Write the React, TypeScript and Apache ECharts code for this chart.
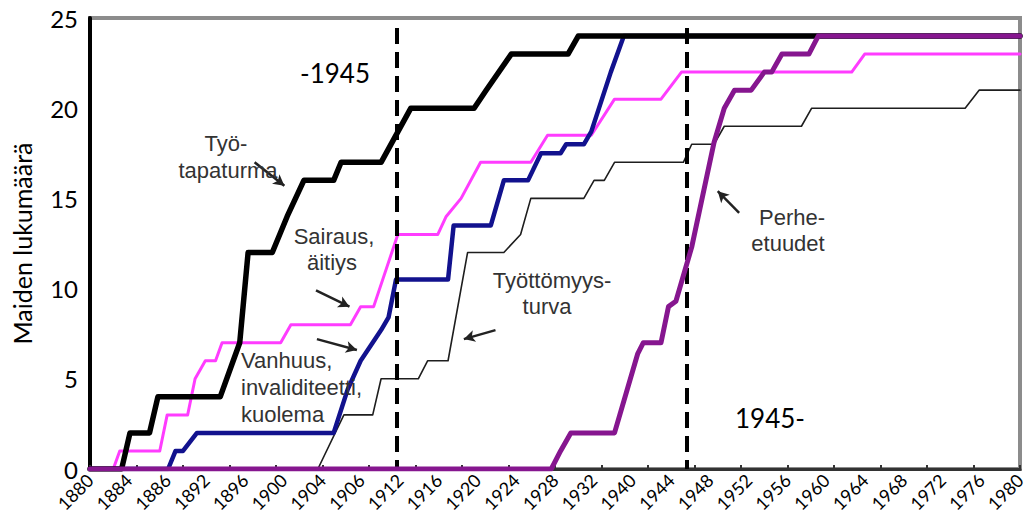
import { useEffect, useRef } from "react";
import * as echarts from "echarts";

// Tick labels printed under the x axis (as in the original figure)
const xTickLabels = [
  "1880", "1884", "1886", "1892", "1896", "1900", "1904", "1906", "1912",
  "1916", "1920", "1924", "1928", "1932", "1940", "1944", "1948", "1952",
  "1956", "1960", "1964", "1968", "1972", "1976", "1980",
];
const yearMin = 1880;
const yearMax = 1980;
const yMax = 25;

// Number of countries, [year, count]
const tyotapaturma = [
  [1880, 0], [1883.4, 0], [1884.3, 2], [1886.4, 2], [1887.3, 4], [1894, 4],
  [1895.4, 6], [1896.1, 7], [1897, 12], [1899.6, 12], [1901.2, 14], [1903, 16],
  [1906.2, 16], [1907, 17], [1911.3, 17], [1914.5, 20], [1921.3, 20],
  [1922.6, 21], [1925.3, 23], [1931.4, 23], [1932.5, 24], [1980, 24],
];
const sairausAitiys = [
  [1880, 0], [1882.5, 0], [1883.2, 1], [1887.5, 1], [1888.3, 3], [1890.5, 3],
  [1891.3, 5], [1892.4, 6], [1893.5, 6], [1894.2, 7], [1900.5, 7], [1901.6, 8],
  [1908, 8], [1909.1, 9], [1910.5, 9], [1913.1, 13], [1917.4, 13], [1918.3, 14],
  [1919.9, 15], [1922, 17], [1927.4, 17], [1929.2, 18.5], [1933.9, 18.5],
  [1936.4, 20.5], [1941.4, 20.5], [1943.6, 22], [1961.9, 22], [1963.3, 23],
  [1980, 23],
];
const vanhuus = [
  [1880, 0], [1888.4, 0], [1889.2, 1], [1890, 1], [1891.5, 2], [1906.2, 2],
  [1907.7, 4.4], [1909.1, 6], [1911.3, 7.7], [1912.1, 8.4], [1912.9, 10.5],
  [1918.5, 10.5], [1919.1, 13.5], [1923.1, 13.5], [1924.5, 16], [1927.1, 16],
  [1928.5, 17.5], [1930.6, 17.5], [1931.2, 18], [1933.1, 18], [1933.9, 18.7],
  [1936, 22], [1937.4, 24], [1980, 24],
];
const tyottomyysturva = [
  [1880, 0], [1904.5, 0], [1907.3, 3], [1910.4, 3], [1911.3, 5], [1915.3, 5],
  [1916.3, 6], [1918.5, 6], [1920.6, 12], [1924.5, 12], [1926.3, 13],
  [1927.4, 15], [1933.1, 15], [1934.2, 16], [1935.3, 16], [1936.4, 17],
  [1943.8, 17], [1944.7, 18], [1947.1, 18], [1948.2, 19], [1956.5, 19],
  [1957.6, 20], [1974.1, 20], [1975.6, 21], [1980, 21],
];
const perheEtuudet = [
  [1880, 0], [1929.6, 0], [1930.6, 1], [1931.7, 2], [1936.4, 2], [1938.9, 6.4],
  [1939.5, 7], [1941.4, 7], [1942.2, 9], [1943, 9.3], [1944.7, 12.3],
  [1947.1, 18.1], [1948.2, 20], [1949.3, 21], [1951.1, 21], [1952.5, 22],
  [1953.3, 22], [1954.4, 23], [1957.3, 23], [1958.3, 24], [1980, 24],
];

// Period dividers (years) and their top value
const dividerYears = [1913.0, 1944.2];
const dividerTop = 24.45;

// Annotation arrows: [fromYear, fromValue, toYear, toValue]
const arrows = [
  [1897.7, 17.0, 1900.9, 15.7],
  [1904.3, 9.9, 1907.9, 9.0],
  [1904.4, 7.2, 1908.7, 6.6],
  [1923.6, 7.7, 1920.2, 7.2],
  [1949.8, 14.2, 1947.5, 15.4],
];

const FONT = "Lato";
const ANN_FONT = "Liberation Sans";
const GRID_TOP = 18;
const GRID_BOTTOM = 58;
const CHART_H = 527;
const GRID_H = CHART_H - GRID_TOP - GRID_BOTTOM;

export default function App() {
  const ref = useRef<HTMLDivElement>(null);

  useEffect(() => {
    if (!ref.current) return;
    const chart = echarts.init(ref.current, undefined, { renderer: "svg" });

    const annText = (text: string, x: number, y: number, align = "center") => ({
      type: "text",
      x,
      y,
      z: 100,
      style: {
        text,
        fill: "#333",
        fontSize: 22,
        fontFamily: ANN_FONT,
        textAlign: align,
        textVerticalAlign: "middle",
      },
    });
    const bigText = (text: string, x: number, y: number) => ({
      type: "text",
      x,
      y,
      z: 100,
      style: {
        text,
        fill: "#000",
        fontSize: 26,
        fontFamily: FONT,
        textAlign: "left",
        textVerticalAlign: "middle",
      },
    });

    const lineSeries = (
      name: string,
      data: number[][],
      color: string,
      width: number,
      z: number,
      extra: any = {}
    ) => ({
      name,
      type: "line",
      xAxisIndex: 1,
      yAxisIndex: 0,
      data,
      showSymbol: false,
      symbol: "none",
      z,
      lineStyle: { color, width, join: "round", cap: "round" },
      itemStyle: { color },
      ...extra,
    });

    chart.setOption({
      animation: false,
      backgroundColor: "#fff",
      grid: {
        left: 90,
        right: 10,
        top: GRID_TOP,
        bottom: GRID_BOTTOM,
        show: true,
        borderColor: "#8c8c8c",
        borderWidth: 4,
        backgroundColor: "#fff",
      },
      xAxis: [
        {
          // printed year labels, the only axis on the bottom side
          type: "category",
          data: xTickLabels,
          boundaryGap: false,
          position: "bottom",
          axisLine: { show: true, lineStyle: { color: "#333", width: 3 } },
          axisTick: { show: false },
          splitLine: { show: false },
          axisLabel: {
            show: true,
            interval: 0,
            rotate: 45,
            fontSize: 18,
            fontFamily: FONT,
            color: "#000",
          },
        },
        {
          // linear year scale used by the data, its 5-year ticks moved to the bottom edge
          type: "value",
          min: yearMin,
          max: yearMax,
          interval: 5,
          position: "top",
          offset: -GRID_H,
          axisLine: { show: false },
          axisTick: { show: true, inside: false, length: 4, lineStyle: { color: "#333", width: 2 } },
          axisLabel: { show: false },
          splitLine: { show: false },
        },
      ],
      yAxis: {
        type: "value",
        min: 0,
        max: yMax,
        interval: 5,
        name: "Maiden lukumäärä",
        nameLocation: "middle",
        nameGap: 56,
        nameRotate: 90,
        nameTextStyle: { fontSize: 25, fontFamily: FONT, color: "#000" },
        axisLine: { show: true, lineStyle: { color: "#000", width: 4 } },
        axisTick: { show: false },
        splitLine: { show: false },
        axisLabel: { fontSize: 24, fontFamily: FONT, color: "#000", margin: 12 },
      },
      series: [
        lineSeries("Työttömyysturva", tyottomyysturva, "#1e1e1e", 1.6, 2, {
          markLine: {
            silent: true,
            symbol: ["none", "arrow"],
            symbolSize: [9, 11],
            label: { show: false },
            lineStyle: { color: "#222", width: 2.5, type: "solid" },
            data: arrows.map((a) => [
              { coord: [a[0], a[1]] },
              { coord: [a[2], a[3]] },
            ]),
          },
        }),
        lineSeries("Sairaus, äitiys", sairausAitiys, "#ff3cff", 3, 3),
        lineSeries("Vanhuus, invaliditeetti, kuolema", vanhuus, "#12128e", 4.5, 4),
        lineSeries("Työtapaturma", tyotapaturma, "#000", 5.5, 5, {
          markLine: {
            silent: true,
            symbol: ["none", "none"],
            label: { show: false },
            lineStyle: { color: "#000", width: 4, type: [16, 8] },
            data: dividerYears.map((yr) => [
              { coord: [yr, dividerTop] },
              { coord: [yr, 0] },
            ]),
          },
        }),
        lineSeries("Perhe-etuudet", perheEtuudet, "#86168f", 5, 6),
      ],
      graphic: [
        bigText("-1945", 300, 73),
        bigText("1945-", 735, 418),
        annText("Työ-", 226, 143),
        annText("tapaturma", 228, 170),
        annText("Sairaus,", 334, 236),
        annText("äitiys", 332, 262),
        annText("Vanhuus,", 241, 360, "left"),
        annText("invaliditeetti,", 241, 387, "left"),
        annText("kuolema", 241, 414, "left"),
        annText("Työttömyys-", 552, 280),
        annText("turva", 547, 306),
        annText("Perhe-", 792, 217),
        annText("etuudet", 788, 243),
      ],
    });

    return () => chart.dispose();
  }, []);

  return (
    <div
      ref={ref}
      style={{ position: "fixed", left: 0, top: 0, width: 1030, height: 527 }}
    />
  );
}
